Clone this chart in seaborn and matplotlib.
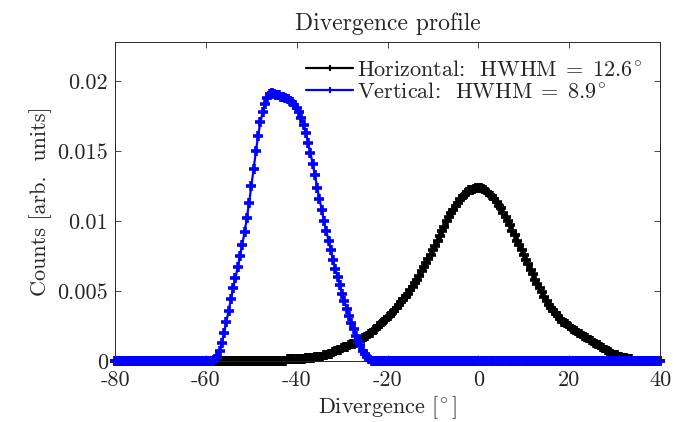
import numpy as np
import pandas as pd
import matplotlib
matplotlib.use("Agg")
import matplotlib.pyplot as plt
import matplotlib.ticker as mticker
import seaborn as sns

# divergence bins, 0.5 deg from -80 to 40
DIV_START = -80.0
DIV_STEP = 0.5

# each row covers 5 degrees (10 bins)
horizontal_counts = [
    0, 0, 0, 0, 0, 0, 0, 0, 0, 0,                                                     # -80
    0, 0, 0, 0, 0, 0, 0, 0, 0, 0,                                                     # -75
    0, 0, 0, 0, 0, 0, 0, 0, 0, 0,                                                     # -70
    0, 0, 0, 0, 0, 0, 0, 0, 0, 0,                                                     # -65
    0, 0, 0, 0, 0, 0, 0, 0, 0, 0,                                                     # -60
    0, 0, 0, 0, 0, 0, 0, 0, 0, 0,                                                     # -55
    0, 0, 0, 0, 0, 0, 0, 0, 0, 0,                                                     # -50
    0, 0, 0, 0, 0, 0, 0.0001, 0.0001, 0.0001, 0.0001,                                 # -45
    0.0001, 0.0001, 0.0001, 0.0001, 0.0002, 0.0002, 0.0002, 0.0002, 0.0003, 0.0003,   # -40
    0.0003, 0.0003, 0.0004, 0.0004, 0.0005, 0.0005, 0.0006, 0.0007, 0.0008, 0.0008,   # -35
    0.0009, 0.0010, 0.0010, 0.0011, 0.0012, 0.0012, 0.0013, 0.0014, 0.0015, 0.0016,   # -30
    0.0017, 0.0018, 0.0019, 0.0020, 0.0022, 0.0023, 0.0025, 0.0026, 0.0028, 0.0029,   # -25
    0.0031, 0.0032, 0.0034, 0.0036, 0.0038, 0.0040, 0.0042, 0.0044, 0.0046, 0.0048,   # -20
    0.0051, 0.0053, 0.0056, 0.0058, 0.0061, 0.0064, 0.0067, 0.0070, 0.0073, 0.0076,   # -15
    0.0079, 0.0082, 0.0086, 0.0089, 0.0093, 0.0096, 0.0100, 0.0103, 0.0106, 0.0108,   # -10
    0.0111, 0.0113, 0.0116, 0.0117, 0.0119, 0.0121, 0.0122, 0.0122, 0.0123, 0.0124,   # -5
    0.0124, 0.0124, 0.0123, 0.0122, 0.0121, 0.0119, 0.0118, 0.0116, 0.0114, 0.0111,   # 0
    0.0109, 0.0106, 0.0103, 0.0100, 0.0097, 0.0093, 0.0090, 0.0086, 0.0083, 0.0079,   # 5
    0.0076, 0.0072, 0.0069, 0.0065, 0.0062, 0.0058, 0.0055, 0.0052, 0.0049, 0.0046,   # 10
    0.0043, 0.0040, 0.0038, 0.0036, 0.0034, 0.0032, 0.0030, 0.0028, 0.0027, 0.0026,   # 15
    0.0025, 0.0023, 0.0022, 0.0021, 0.0020, 0.0019, 0.0018, 0.0017, 0.0016, 0.0015,   # 20
    0.0014, 0.0013, 0.0012, 0.0011, 0.0010, 0.0009, 0.0008, 0.0007, 0.0006, 0.0005,   # 25
    0.0004, 0.0004, 0.0003, 0.0003, 0.0002, 0.0002, 0.0001, 0.0001, 0, 0,             # 30
    0, 0, 0, 0, 0, 0, 0, 0, 0, 0,                                                     # 35
    0,                                                                                # 40
]

vertical_counts = [
    0, 0, 0, 0, 0, 0, 0, 0, 0, 0,                                                     # -80
    0, 0, 0, 0, 0, 0, 0, 0, 0, 0,                                                     # -75
    0, 0, 0, 0, 0, 0, 0, 0, 0, 0,                                                     # -70
    0, 0, 0, 0, 0, 0, 0, 0, 0, 0,                                                     # -65
    0, 0, 0, 0, 0.0001, 0.0003, 0.0007, 0.0013, 0.0020, 0.0028,                       # -60
    0.0036, 0.0044, 0.0052, 0.0059, 0.0067, 0.0075, 0.0083, 0.0092, 0.0102, 0.0113,   # -55
    0.0125, 0.0137, 0.0150, 0.0161, 0.0171, 0.0178, 0.0184, 0.0188, 0.0191, 0.0192,   # -50
    0.0191, 0.0190, 0.0190, 0.0189, 0.0189, 0.0188, 0.0187, 0.0186, 0.0185, 0.0183,   # -45
    0.0181, 0.0178, 0.0174, 0.0169, 0.0163, 0.0156, 0.0149, 0.0141, 0.0133, 0.0124,   # -40
    0.0116, 0.0108, 0.0100, 0.0093, 0.0086, 0.0079, 0.0072, 0.0066, 0.0060, 0.0054,   # -35
    0.0048, 0.0043, 0.0037, 0.0032, 0.0027, 0.0023, 0.0018, 0.0014, 0.0011, 0.0007,   # -30
    0.0005, 0.0003, 0.0001, 0, 0, 0, 0, 0, 0, 0,                                      # -25
    0, 0, 0, 0, 0, 0, 0, 0, 0, 0,                                                     # -20
    0, 0, 0, 0, 0, 0, 0, 0, 0, 0,                                                     # -15
    0, 0, 0, 0, 0, 0, 0, 0, 0, 0,                                                     # -10
    0, 0, 0, 0, 0, 0, 0, 0, 0, 0,                                                     # -5
    0, 0, 0, 0, 0, 0, 0, 0, 0, 0,                                                     # 0
    0, 0, 0, 0, 0, 0, 0, 0, 0, 0,                                                     # 5
    0, 0, 0, 0, 0, 0, 0, 0, 0, 0,                                                     # 10
    0, 0, 0, 0, 0, 0, 0, 0, 0, 0,                                                     # 15
    0, 0, 0, 0, 0, 0, 0, 0, 0, 0,                                                     # 20
    0, 0, 0, 0, 0, 0, 0, 0, 0, 0,                                                     # 25
    0, 0, 0, 0, 0, 0, 0, 0, 0, 0,                                                     # 30
    0, 0, 0, 0, 0, 0, 0, 0, 0, 0,                                                     # 35
    0,                                                                                # 40
]

series_labels = [r"Horizontal:  $\mathrm{HWHM}\;=\;12.6^{\!\circ}$",
                 r"Vertical:  $\mathrm{HWHM}\;=\;8.9^{\!\circ}$"]
series_colors = ["black", "#0000FF"]
x_ticks = [-80, -60, -40, -20, 0, 20, 40]
y_ticks = [0, 0.005, 0.01, 0.015, 0.02]

divergence = DIV_START + DIV_STEP * np.arange(len(horizontal_counts))
df_h = pd.DataFrame({"div": divergence, "counts": horizontal_counts})
df_v = pd.DataFrame({"div": divergence, "counts": vertical_counts})

sns.set_style("ticks")
plt.rcParams["font.family"] = ["cmr10", "DejaVu Serif"]
plt.rcParams["mathtext.fontset"] = "cm"
plt.rcParams["axes.unicode_minus"] = False
plt.rcParams["axes.formatter.use_mathtext"] = False

fig = plt.figure(figsize=(6.77, 4.22), dpi=100)
ax = fig.add_axes([0.170, 0.145, 0.805, 0.755])

for d, lab, col in zip([df_h, df_v], series_labels, series_colors):
    sns.lineplot(data=d, x="div", y="counts", color=col, label=lab,
                 marker="+", markersize=7, markeredgewidth=2.6,
                 markeredgecolor=col, linewidth=1.6, clip_on=False, ax=ax)

ax.set_xlim(-80, 40)
ax.set_ylim(0, 0.0228)
ax.set_xticks(x_ticks)
ax.set_yticks(y_ticks)
ax.yaxis.set_major_formatter(mticker.FuncFormatter(lambda v, _: f"{v:g}"))
ax.xaxis.set_major_formatter(mticker.FuncFormatter(lambda v, _: f"{v:g}"))
ax.tick_params(direction="in", top=True, right=True, length=4, width=0.6,
               labelsize=16, colors="#262626")
ax.tick_params(axis="x", pad=7)
ax.tick_params(axis="y", pad=5)
for s in ax.spines.values():
    s.set_linewidth(0.7)
    s.set_color("#262626")

ax.set_title("Divergence profile", fontsize=17, pad=9)
ax.set_xlabel(r"Divergence $[{}^{\!\circ}]$", fontsize=16, labelpad=3)
ax.set_ylabel("Counts [arb.  units]", fontsize=16, labelpad=4)

leg = ax.legend(loc="upper right", frameon=False, fontsize=16, numpoints=1,
                handlelength=2.1, handletextpad=0.2, labelspacing=0.1,
                borderaxespad=0.4)
for h in leg.legend_handles:
    h.set_markersize(5)
    h.set_markeredgewidth(1.5)
    h.set_linewidth(1.6)

plt.savefig("out.png", dpi=100)
